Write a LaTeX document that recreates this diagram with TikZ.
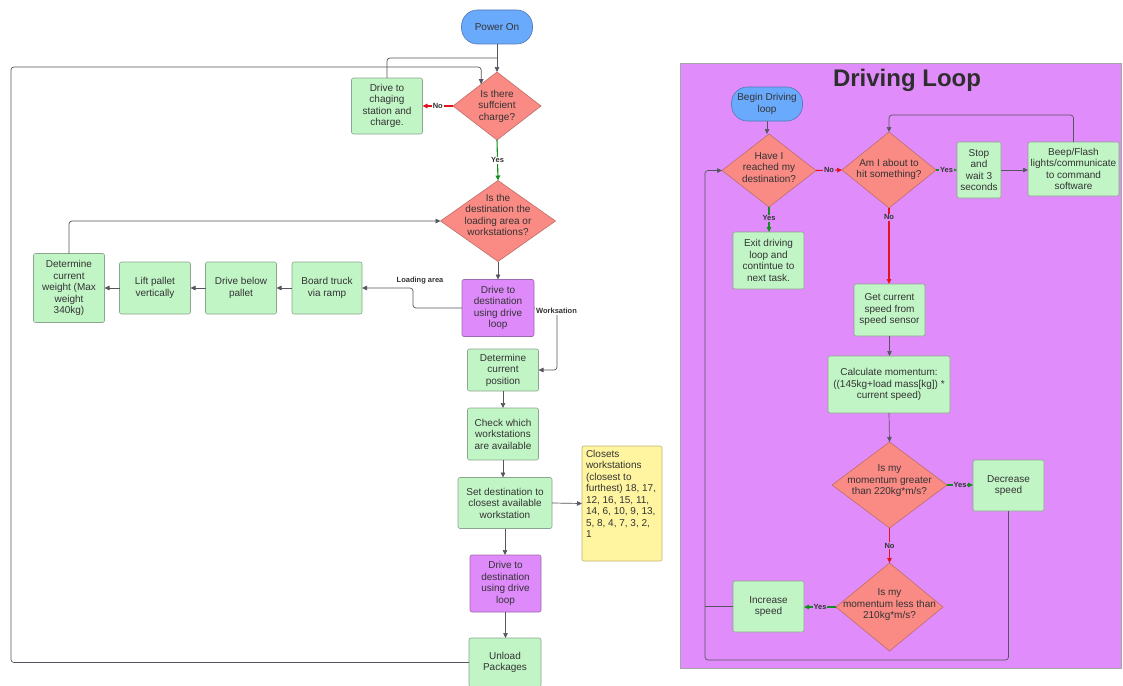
\documentclass[tikz,border=0pt]{standalone}
\usepackage{fontspec}
\setmainfont{Liberation Sans}
\usetikzlibrary{shapes.geometric,arrows.meta,calc}
\definecolor{gfill}{RGB}{194,245,198}
\definecolor{gdraw}{RGB}{140,165,142}
\definecolor{rfill}{RGB}{250,138,132}
\definecolor{rdraw}{RGB}{190,110,105}
\definecolor{pfill}{RGB}{222,138,250}
\definecolor{pdraw}{RGB}{160,105,175}
\definecolor{panel}{RGB}{224,140,250}
\definecolor{yfill}{RGB}{255,245,160}
\definecolor{ydraw}{RGB}{190,180,110}
\definecolor{bfill}{RGB}{106,170,252}
\definecolor{bdraw}{RGB}{80,120,180}
\definecolor{ln}{RGB}{85,85,95}
\definecolor{txt}{RGB}{51,51,51}
\definecolor{redl}{RGB}{225,20,30}
\definecolor{grnl}{RGB}{20,140,30}
\tikzset{
  base/.style={font=\fontsize{10}{11.5}\selectfont, text=txt, align=center, inner sep=0pt, outer sep=0pt, line width=0.6pt},
  gbox/.style={base, fill=gfill, draw=gdraw, rounded corners=2pt},
  pbox/.style={base, fill=pfill, draw=pdraw, rounded corners=2pt},
  term/.style={base, fill=bfill, draw=bdraw, rounded corners=16pt},
  dia/.style={diamond, fill=rfill, draw=rdraw, line width=0.6pt, inner sep=0pt, outer sep=0pt},
  dtxt/.style={font=\fontsize{10}{11.5}\selectfont, text=txt, align=center, inner sep=0pt},
  conn/.style={draw=ln, line width=0.7pt, -{Triangle[length=5pt,width=4.5pt]}},
  plainln/.style={draw=ln, line width=0.7pt},
  noarr/.style={conn, draw=redl, line width=1.1pt},
  yesarr/.style={conn, draw=grnl, line width=1.1pt},
  lab/.style={font=\fontsize{7.5}{8}\selectfont\bfseries, text=txt, inner sep=0.8pt},
}
\begin{document}
\begin{tikzpicture}[x=1pt,y=-1pt]
\useasboundingbox (0,0) rectangle (1123,685);
\fill[white] (0,0) rectangle (1123,685);

% ---------- main flow ----------
\node[term, minimum width=71pt, minimum height=34pt] (pwr) at (497,27) {Power On};
\node[dia, minimum width=88pt, minimum height=68pt] (d1) at (497,106) {};
\node[dtxt] (d1t) at (497,106) {Is there\\suffcient\\charge?};
\node[gbox, minimum width=71pt, minimum height=56pt] (chg) at (387,106) {Drive to\\chaging\\station and\\charge.};
\node[dia, minimum width=115pt, minimum height=81pt] (d2) at (498,221) {};
\node[dtxt] (d2t) at (498,215) {Is the\\destination the\\loading area or\\workstations?};
\node[pbox, minimum width=72pt, minimum height=57pt] (dr1) at (498,308) {Drive to\\destination\\using drive\\loop};
\node[gbox, minimum width=70pt, minimum height=52pt] (brd) at (327,288) {Board truck\\via ramp};
\node[gbox, minimum width=71pt, minimum height=52pt] (dbp) at (241,288) {Drive below\\pallet};
\node[gbox, minimum width=71pt, minimum height=52pt] (lift) at (155,288) {Lift pallet\\vertically};
\node[gbox, minimum width=71pt, minimum height=69pt] (wgt) at (69,288) {Determine\\current\\weight (Max\\weight\\340kg)};
\node[gbox, minimum width=71pt, minimum height=42pt] (pos) at (503,370) {Determine\\current\\position};
\node[gbox, minimum width=71pt, minimum height=52pt] (chk) at (503,434) {Check which\\workstations\\are available};
\node[gbox, minimum width=94pt, minimum height=51pt] (set) at (505,503) {Set destination to\\closest available\\workstation};
\node[base, fill=yfill, draw=ydraw, rounded corners=2pt, minimum width=80pt, minimum height=115pt] (cls) at (622,503.5) {};
\node[base, align=left, anchor=north west] (clst) at (586,450) {Closets\\workstations\\(closest to\\furthest) 18, 17,\\12, 16, 15, 11,\\14, 6, 10, 9, 13,\\5, 8, 4, 7, 3, 2,\\1};
\node[pbox, minimum width=71pt, minimum height=57pt] (dr2) at (505.5,583.5) {Drive to\\destination\\using drive\\loop};
\node[gbox, minimum width=72pt, minimum height=49pt] (unl) at (505,662.5) {Unload\\Packages};

\coordinate (j1) at (497,58);
\coordinate (e1) at ($(d1.north)!0.36!(d1.west)$);

\draw[conn] (pwr.south) -- (d1.north);
\draw[plainln, rounded corners=3pt] (chg.north) |- (j1);
\draw[conn, rounded corners=3pt] (unl.west) -| (11,67) -| (e1);
\draw[noarr] (d1.west) -- node[lab, fill=white] {No} (chg.east);
\draw[yesarr] (d1.south) -- node[lab, fill=white] {Yes} (d2.north);
\draw[conn] (d2.south) -- (dr1.north);
\draw[conn, rounded corners=3pt] (dr1.west) -- (413,308) |- (brd.east);
\node[lab] (lla) at (420,281) {Loading area};
\draw[conn] (brd.west) -- (dbp.east);
\draw[conn] (dbp.west) -- (lift.east);
\draw[conn] (lift.west) -- (wgt.east);
\draw[conn, rounded corners=3pt] (wgt.north) |- (d2.west);
\draw[conn, rounded corners=3pt] (dr1.east) -- (557,308) |- (pos.east);
\node[lab, fill=white] (lws) at (556.5,311) {Worksation};
\draw[conn] (pos.south) -- (chk.north);
\draw[conn] (chk.south) -- (chk.south |- set.north);
\draw[conn] (set.east) -- (cls.west);
\draw[conn] (set.south) -- (set.south |- dr2.north);
\draw[conn] (dr2.south) -- (dr2.south |- unl.north);

% ---------- driving loop panel ----------
\fill[panel] (680,63) rectangle (1121.5,668);
\draw[line width=0.8pt, draw=gray!70] (680,63) rectangle (1121.5,668);
\node[font=\fontsize{24}{26}\selectfont\bfseries, text=txt!90!black] (title) at (907,80) {Driving Loop};

\node[term, minimum width=71pt, minimum height=34pt] (bdl) at (767,104) {Begin Driving\\loop};
\node[dia, minimum width=94pt, minimum height=73pt] (hd) at (769,170.5) {};
\node[dtxt] (hdt) at (769,167.5) {Have I\\reached my\\destination?};
\node[dia, minimum width=94pt, minimum height=76pt] (hit) at (889,170) {};
\node[dtxt] (hitt) at (889,169.5) {Am I about to\\hit something?};
\node[gbox, minimum width=44pt, minimum height=56pt] (stop) at (979,170) {Stop\\and\\wait 3\\seconds};
\node[gbox, minimum width=91pt, minimum height=54pt] (beep) at (1073.5,169) {Beep/Flash\\lights/communicate\\to command\\software};
\node[gbox, minimum width=71pt, minimum height=57pt] (exit) at (768.5,260.5) {Exit driving\\loop and\\contintue to\\next task.};
\node[gbox, minimum width=71pt, minimum height=52pt] (spd) at (889.5,310) {Get current\\speed from\\speed sensor};
\node[gbox, minimum width=122pt, minimum height=57pt] (calc) at (889,384.5) {Calculate momentum:\\((145kg+load mass[kg]) *\\current speed)};
\node[dia, minimum width=115pt, minimum height=86pt] (gt) at (889.5,485) {};
\node[dtxt] (gtt) at (889.5,481) {Is my\\momentum greater\\than 220kg*m/s?};
\node[gbox, minimum width=71pt, minimum height=51pt] (dec) at (1008.5,485.5) {Decrease\\speed};
\node[dia, minimum width=107pt, minimum height=88pt] (lt) at (889.5,607) {};
\node[dtxt] (ltt) at (889.5,605) {Is my\\momentum less than\\210kg*m/s?};
\node[gbox, minimum width=71pt, minimum height=51pt] (inc) at (768.5,606.5) {Increase\\speed};

\draw[conn] (bdl.south) -- (bdl.south |- hd.north);
\draw[noarr] (hd.east) -- node[lab, fill=panel] {No} (hit.west);
\draw[yesarr] (hit.east) -- node[lab, fill=panel] {Yes} (stop.west);
\draw[conn] (stop.east) -- (stop.east -| beep.west);
\draw[conn, rounded corners=3pt] (beep.north) |- ($(hit.north)+(0,-17)$) -- (hit.north);
\draw[yesarr] (hd.south) -- node[lab, fill=panel, pos=0.45] {Yes} (hd.south |- exit.north);
\draw[noarr] (hit.south) -- node[lab, fill=panel, pos=0.12] {No} (hit.south |- spd.north);
\draw[conn] (spd.south) -- (spd.south |- calc.north);
\draw[conn] (calc.south) -- (gt.north);
\draw[yesarr] (gt.east) -- node[lab, fill=panel] {Yes} (gt.east -| dec.west);
\draw[conn, rounded corners=3pt] (dec.south) |- (705,660) |- (hd.west);
\draw[noarr] (gt.south) -- node[lab, fill=panel] {No} (lt.north);
\draw[yesarr] (lt.west) -- node[lab, fill=panel] {Yes} (lt.west -| inc.east);
\draw[plainln] (inc.west) -- (705,606.5);
\end{tikzpicture}
\end{document}
